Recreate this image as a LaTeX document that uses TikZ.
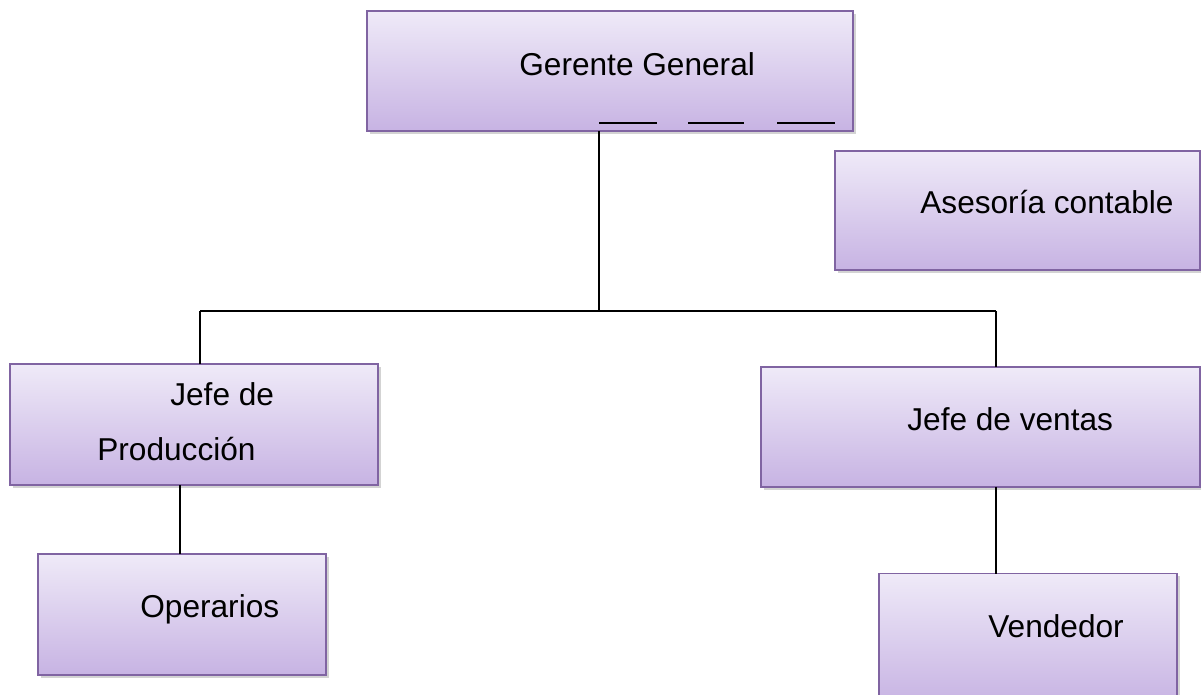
\documentclass[tikz,border=0pt]{standalone}
\usepackage{fontspec}
\setmainfont{Liberation Sans}
\usetikzlibrary{shadows}
\definecolor{boxline}{HTML}{8064A2}
\definecolor{boxtop}{HTML}{EFEAF8}
\definecolor{boxbot}{HTML}{C7B3E3}
\begin{document}
\begin{tikzpicture}[x=0.02cm,y=-0.02cm,
    box/.style={shape=rectangle,draw=boxline,line width=1.1pt,top color=boxtop,bottom color=boxbot,
      inner sep=0pt,outer sep=0pt,drop shadow={shadow xshift=1.5pt,shadow yshift=-1.5pt,opacity=0.35}},
    lbl/.style={anchor=base west,inner sep=0pt,font=\fontsize{18}{22}\selectfont},
    conn/.style={draw=black,line width=0.85pt}]
      \useasboundingbox (0,0) rectangle (1201,694);
      % cajas
      \node[box,minimum width=9.72cm,minimum height=2.4cm] (gg) at (610,71) {};
      \node[box,minimum width=7.30cm,minimum height=2.38cm] (ac) at (1017.5,210.5) {};
      \node[box,minimum width=7.36cm,minimum height=2.42cm] (jp) at (194,424.5) {};
      \node[box,minimum width=8.78cm,minimum height=2.4cm] (jv) at (980.5,427) {};
      \node[box,minimum width=5.76cm,minimum height=2.42cm] (op) at (182,614.5) {};
      \node[box,minimum width=5.96cm,minimum height=2.62cm] (vd) at (1028,639) {};
      % textos
      \node[lbl] (ggt) at (519,75) {Gerente General};
      \node[lbl] (act) at (920,213) {Asesoría contable};
      \node[lbl] (jpt1) at (170,405) {Jefe de};
      \node[lbl] (jpt2) at (97,460) {Producción};
      \node[lbl] (jvt) at (907,430) {Jefe de ventas};
      \node[lbl] (opt) at (140,617) {Operarios};
      \node[lbl] (vdt) at (988,637) {Vendedor};
      % rayas
      \draw[conn] (599,123) -- (657,123) (688,123) -- (744,123) (777,123) -- (835,123);
      % conectores
      \coordinate (c0) at (599,311);
      \coordinate (cl) at (200,311);
      \coordinate (cr) at (996,311);
      \path[conn]
      (gg.south -| c0) -- (c0)
      (cl) -- (cr)
      (cl) -- (jp.north -| cl)
      (cr) -- (jv.north -| cr);
      \coordinate (cp) at (180,0);
      \coordinate (cv) at (996,0);
      \path[conn]
      (jp.south -| cp) -- (op.north -| cp)
      (jv.south -| cv) -- (vd.north -| cv);
\end{tikzpicture}
\end{document}
